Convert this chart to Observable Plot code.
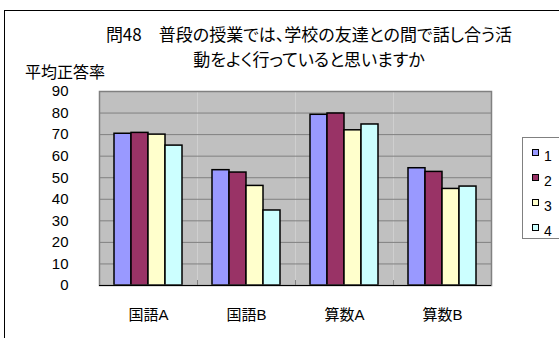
<!DOCTYPE html>
<html>
<head>
<meta charset="utf-8">
<script src="https://cdn.jsdelivr.net/npm/d3@7"></script>
<script src="https://cdn.jsdelivr.net/npm/@observablehq/plot@0.6"></script>
<style>
  html, body { margin: 0; padding: 0; background: #fff; overflow: hidden; }
  #wrap { position: relative; width: 559px; height: 338px; overflow: hidden; font-family: "Liberation Sans", "Noto Sans CJK JP", sans-serif; }
  #wrap svg { position: absolute; left: 0; top: 0; }
  .ov { position: absolute; }
  #border { left: 4px; top: 10px; width: 700px; height: 500px; border: 1.5px solid #000; }
  #title { left: 59px; top: 21px; width: 500px; text-align: center; font-size: 17px; line-height: 25px; font-family: "Noto Sans CJK JP", sans-serif; font-feature-settings: "palt"; }
  #ytitle { left: 25px; top: 63px; font-size: 16px; line-height: 16px; font-family: "Noto Sans CJK JP", sans-serif; }
  #legend { left: 522px; top: 137px; width: 80px; height: 100px; border: 1px solid #808080; }
  .li { position: absolute; left: 9px; height: 14px; }
  .sw { position: absolute; left: 0; top: 0; width: 5px; height: 5px; border: 1.5px solid #000; }
  .lt { position: absolute; left: 12px; top: 0px; font-size: 14px; line-height: 15px; font-family: "Liberation Sans", sans-serif; }
</style>
</head>
<body>
<div id="wrap"></div>
<script>
const titleLines = ["問48　普段の授業では、学校の友達との間で話し合う活", "動をよく行っていると思いますか"];
const yTitle = "平均正答率";
const categories = ["国語A", "国語B", "算数A", "算数B"];
const seriesNames = ["1", "2", "3", "4"];
const series1 = [70.4, 53.5, 79.2, 54.4];
const series2 = [70.8, 52.4, 79.8, 52.7];
const series3 = [70.0, 46.2, 72.0, 44.8];
const series4 = [64.9, 34.8, 74.7, 45.9];
const seriesColors = ["#9999FF", "#993366", "#FFFFCC", "#CCFFFF"];
const yTicks = [0, 10, 20, 30, 40, 50, 60, 70, 80, 90];

const seriesValues = [series1, series2, series3, series4];
const rows = categories.flatMap((c, i) => seriesNames.map((s, j) => ({cat: c, s, v: seriesValues[j][i]})));

const chart = Plot.plot({
  width: 559,
  height: 338,
  marginLeft: 99,
  marginRight: 68,
  marginTop: 91,
  marginBottom: 53,
  style: {fontSize: "15px", fontFamily: "'Liberation Sans', 'Noto Sans CJK JP', sans-serif", color: "#000", background: "transparent"},
  fx: {domain: categories, padding: 0, axis: "bottom", tickSize: 0, tickPadding: 24, label: null, fontSize: 16},
  x: {domain: seriesNames, paddingInner: 0, paddingOuter: 0.75, axis: null},
  y: {domain: [0, 90], ticks: yTicks, tickSize: 0, tickPadding: 31, label: null},
  color: {domain: seriesNames, range: seriesColors},
  marks: [
    Plot.frame({fill: "#C0C0C0"}),
    Plot.ruleY(yTicks.filter(t => t > 0 && t < 90), {stroke: "#808080", strokeWidth: 1}),
    Plot.frame({anchor: "left", stroke: "#808080", insetTop: 189}),
    Plot.barY(rows, {fx: "cat", x: "s", y: "v", fill: "s", stroke: "#000", strokeWidth: 1.5}),
    Plot.frame({facet: "super", stroke: "#808080", strokeWidth: 1.5}),
    Plot.ruleY([0], {stroke: "#000", strokeWidth: 1.2})
  ]
});

const wrap = document.getElementById("wrap");
wrap.appendChild(chart);

const border = document.createElement("div");
border.className = "ov"; border.id = "border";
wrap.appendChild(border);

const title = document.createElement("div");
title.className = "ov"; title.id = "title";
title.innerHTML = titleLines.join("<br>");
wrap.appendChild(title);

const yt = document.createElement("div");
yt.className = "ov"; yt.id = "ytitle";
yt.textContent = yTitle;
wrap.appendChild(yt);

const legend = document.createElement("div");
legend.className = "ov"; legend.id = "legend";
seriesNames.forEach((s, i) => {
  const li = document.createElement("div");
  li.className = "li";
  li.style.top = (11 + i * 25) + "px";
  const sw = document.createElement("div");
  sw.className = "sw";
  sw.style.background = seriesColors[i];
  const lt = document.createElement("div");
  lt.className = "lt";
  lt.textContent = s;
  li.appendChild(sw); li.appendChild(lt);
  legend.appendChild(li);
});
wrap.appendChild(legend);
</script>
</body>
</html>
